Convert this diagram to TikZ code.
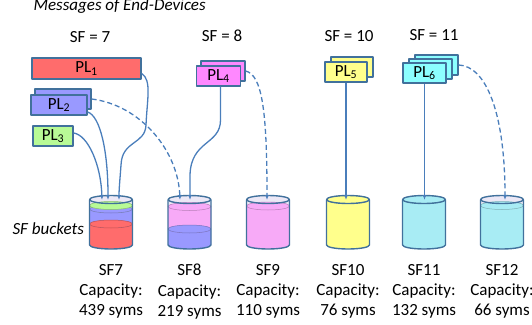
\documentclass[tikz,border=0pt]{standalone}
\usepackage{fontspec}
\setmainfont{Carlito}
\usetikzlibrary{arrows.meta}
\definecolor{bordc}{RGB}{65,113,156}
\definecolor{linec}{RGB}{74,126,187}
\definecolor{redc}{RGB}{255,108,108}
\definecolor{bluec}{RGB}{153,153,255}
\definecolor{greenc}{RGB}{184,250,150}
\definecolor{pinkc}{RGB}{255,136,255}
\definecolor{pinkb}{RGB}{247,170,247}
\definecolor{yellowc}{RGB}{255,255,140}
\definecolor{cyanc}{RGB}{140,255,255}
\definecolor{cyanb}{RGB}{168,236,244}
\definecolor{emptyc}{RGB}{236,232,246}
\def\sflevels{111/79/100/redc, 111/100/115/bluec, 111/115/118.5/greenc,
  189.5/79/95/bluec, 189.5/95/117.5/pinkb, 268/79/118/pinkb,
  348/79/124.5/yellowc, 424/79/124.5/cyanb, 502/79/118.5/cyanb}
\begin{document}
\begin{tikzpicture}[>={Latex[length=5bp,width=4bp]},line join=bevel,x=1bp,y=1bp,
    font=\fontsize{17bp}{20.3bp}\selectfont,
    msg/.style={draw=bordc,line width=1.3bp,rectangle,inner sep=0pt,minimum height=20bp},
    link/.style={draw=linec,line width=1.3bp,->},
    dlink/.style={link,dash pattern=on 5bp off 3bp}]
    \useasboundingbox (0,0) rectangle (532,324);
    %% buckets
    \foreach \x in {111,189.5,268,348,424,502}
      \fill[emptyc] (\x-21.5,124.5) -- (\x-21.5,79) arc[start angle=180,end angle=360,x radius=21.5,y radius=4]
        -- (\x+21.5,124.5) arc[start angle=0,end angle=180,x radius=21.5,y radius=4] -- cycle;
    \foreach \x/\lo/\hi/\c in \sflevels
      \fill[\c] (\x-21.5,\lo) arc[start angle=180,end angle=360,x radius=21.5,y radius=4]
        -- (\x+21.5,\hi) arc[start angle=0,end angle=180,x radius=21.5,y radius=4] -- cycle;
    \foreach \x/\lo/\hi/\c in \sflevels
      \filldraw[fill=\c,draw=\c!75!black,line width=.5bp] (\x,\hi) ellipse[x radius=21.5,y radius=4];
    \foreach \x in {111,189.5,268,348,424,502} {
      \draw[bordc,line width=1.4bp] (\x-21.5,124.5) -- (\x-21.5,79)
        arc[start angle=180,end angle=360,x radius=21.5,y radius=4] -- (\x+21.5,124.5);
      \draw[bordc,line width=1.4bp] (\x,124.5) ellipse[x radius=21.5,y radius=4];
    }
    \coordinate (in7a) at (102bp,124bp);
    \coordinate (in7b) at (108bp,124bp);
    \coordinate (in7c) at (119bp,124bp);
    \coordinate (in8a) at (180bp,124bp);
    \coordinate (in8b) at (190bp,124bp);
    \coordinate (in9) at (267bp,124bp);
    \coordinate (in10) at (346bp,124bp);
    \coordinate (in11) at (424.5bp,124bp);
    \coordinate (in12) at (505bp,124bp);
    %% texts
    \node (msgtitle) at (30bp,313bp) [anchor=base west] {\itshape Messages of End-Devices};
    \node (buckettitle) at (9bp,90bp) [anchor=base west] {\itshape SF buckets};
    \node (sf7t) at (90bp,281bp) [anchor=base] {SF = 7};
    \node (sf8t) at (222bp,282bp) [anchor=base] {SF = 8};
    \node (sf10t) at (349bp,282bp) [anchor=base] {SF = 10};
    \node (sf11t) at (434bp,283bp) [anchor=base] {SF = 11};
    \node (sf7) at (111bp,60bp) [anchor=north,align=center,inner sep=0pt] {SF7\\Capacity:\\439 syms};
    \node (sf8) at (189.5bp,60bp) [anchor=north,align=center,inner sep=0pt] {SF8\\Capacity:\\219 syms};
    \node (sf9) at (268bp,60bp) [anchor=north,align=center,inner sep=0pt] {SF9\\Capacity:\\110 syms};
    \node (sf10) at (348bp,60bp) [anchor=north,align=center,inner sep=0pt] {SF10\\Capacity:\\76 syms};
    \node (sf11) at (424bp,60bp) [anchor=north,align=center,inner sep=0pt] {SF11\\Capacity:\\132 syms};
    \node (sf12) at (502bp,60bp) [anchor=north,align=center,inner sep=0pt] {SF12\\Capacity:\\66 syms};
    %% messages
    \node (pl1) at (86.5bp,255.5bp) [msg,fill=redc,minimum width=109bp,minimum height=21bp] {PL\textsubscript{1}};
    \node (pl2b) at (63bp,225bp) [msg,fill=bluec,minimum width=56bp] {};
    \node (pl2) at (59bp,219bp) [msg,fill=bluec,minimum width=56bp] {PL\textsubscript{2}};
    \node (pl3) at (53bp,188bp) [msg,fill=greenc,minimum width=40bp] {PL\textsubscript{3}};
    \node (pl4b) at (223bp,253bp) [msg,fill=pinkc,minimum width=44bp] {};
    \node (pl4) at (218.5bp,248bp) [msg,fill=pinkc,minimum width=44bp] {PL\textsubscript{4}};
    \node (pl5b) at (352bp,257bp) [msg,fill=yellowc,minimum width=42bp] {};
    \node (pl5) at (346bp,252bp) [msg,fill=yellowc,minimum width=42bp] {PL\textsubscript{5}};
    \node (pl6c) at (436.5bp,259bp) [msg,fill=cyanc,minimum width=43bp] {};
    \node (pl6b) at (430.5bp,255bp) [msg,fill=cyanc,minimum width=43bp] {};
    \node (pl6) at (424.5bp,251bp) [msg,fill=cyanc,minimum width=43bp] {PL\textsubscript{6}};
    %% links
    \draw [link] ([yshift=-5bp]pl1.east) ..controls (152bp,244bp) and (147bp,224bp) .. (146bp,199bp)
      ..controls (145bp,179bp) and (122bp,184bp) .. (121bp,159bp) ..controls (120bp,145bp) and (119bp,135bp) .. (in7c);
    \draw [link] ([yshift=-7bp]pl2.east) ..controls (100bp,208bp) and (108bp,174bp) .. (in7b);
    \draw [link] ([yshift=3bp]pl3.east) ..controls (88bp,189bp) and (101bp,159bp) .. (in7a);
    \draw [dlink] (pl2b.east) ..controls (140bp,219bp) and (178bp,174bp) .. (in8a);
    \draw [link] ([xshift=2bp]pl4.south) -- (220.5bp,204bp) ..controls (220.5bp,179bp) and (191bp,184bp) .. (190bp,149bp) -- (in8b);
    \draw [dlink] (pl4b.east) ..controls (262bp,249bp) and (267bp,214bp) .. (in9);
    \draw [link] (pl5.south) -- (in10);
    \draw [link] (pl6.south) -- (in11);
    \draw [dlink] (pl6c.east) ..controls (485bp,258bp) and (505bp,214bp) .. (in12);
    %
\end{tikzpicture}
\end{document}
